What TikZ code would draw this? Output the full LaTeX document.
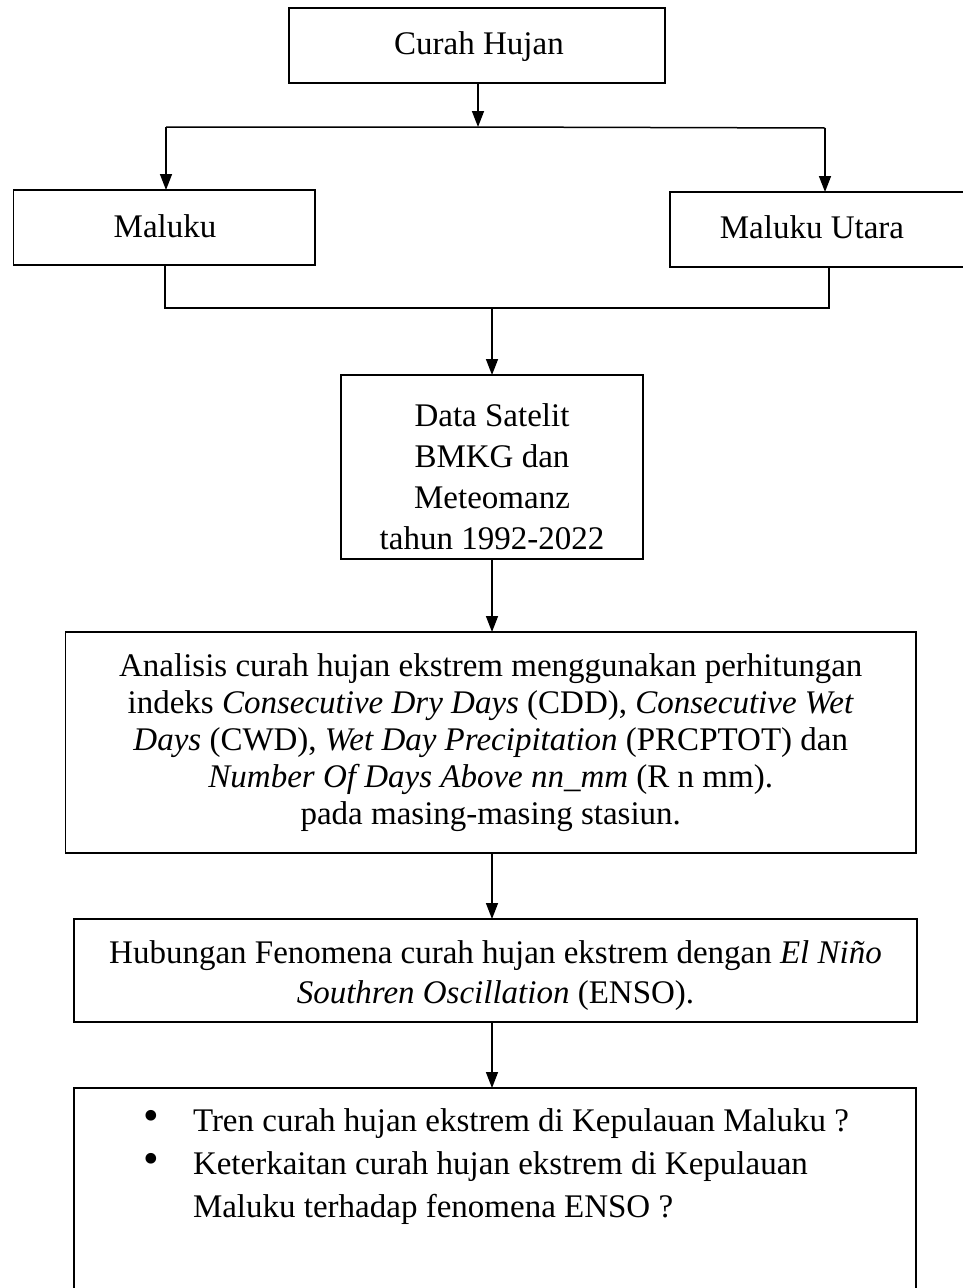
\documentclass[tikz,border=0pt]{standalone}
\usepackage{fontspec}
\setmainfont{Liberation Serif}
\usetikzlibrary{arrows.meta}
\newcommand{\bigbul}{\raisebox{1pt}{\scalebox{1.35}{\textbullet}}}
\begin{document}
\begin{tikzpicture}[x=1pt,y=-1pt,
  every node/.style={inner sep=0pt, outer sep=0pt},
  boxnode/.style={draw, line width=1.5pt, rectangle, align=center},
  plainbox/.style={rectangle},
  conn/.style={line width=1.5pt},
  arr/.style={line width=1.5pt, -{Triangle[length=16pt,width=12pt]}},
  txt/.style={font=\fontsize{33}{37}\selectfont}
]
\useasboundingbox (0,0) rectangle (963,1288);

% top box
\node[boxnode, txt, minimum width=376pt, minimum height=75pt] (curah) at (477,45.5) {};
\node[txt] (curahtext) at (479,47) {Curah Hujan};

% Maluku
\node[boxnode, txt, minimum width=301.5pt, minimum height=75pt] (maluku) at (164.25,227.5) {};
\node[txt] (malukutext) at (165,226) {Maluku};

% Maluku Utara (open on the right)
\node[plainbox, minimum width=300pt, minimum height=75pt] (utara) at (820,229.5) {};
\draw[conn] (utara.north east) -- (utara.north west) -- (utara.south west) -- (utara.south east);
\node[txt] (utaratext) at (812,227) {Maluku Utara};

% Data box
\node[boxnode, minimum width=302pt, minimum height=184pt] (data) at (492,467) {};
\node[align=center, font=\fontsize{33}{41}\selectfont] (datatext) at (492,477)
  {Data Satelit\\BMKG dan\\Meteomanz\\tahun 1992-2022};

% Analisis box
\node[boxnode, txt, minimum width=850.5pt, minimum height=221pt] (analisis) at (490.75,742.5)
  {Analisis curah hujan ekstrem menggunakan perhitungan\\
   indeks \textit{Consecutive Dry Days} (CDD), \textit{Consecutive Wet}\\
   \textit{Days} (CWD), \textit{Wet Day Precipitation} (PRCPTOT) dan\\
   \textit{Number Of Days Above nn\_mm} (R n mm).\\
   pada masing-masing stasiun.};

% Hubungan box
\node[boxnode, minimum width=843pt, minimum height=103pt] (hubungan) at (495.5,970.5) {};
\node[align=center, font=\fontsize{33}{40}\selectfont] (hubungantext) at (495.5,975.5)
  {Hubungan Fenomena curah hujan ekstrem dengan \textit{El Niño}\\
   \textit{Southren Oscillation} (ENSO).};

% Result box (open at bottom)
\node[plainbox, minimum width=842pt, minimum height=212pt] (result) at (495,1194) {};
\draw[conn] (result.south west) -- (result.north west) -- (result.north east) -- (result.south east);
\node[anchor=north west, font=\fontsize{33}{43}\selectfont] (list) at (143,1101)
  {\begin{tabular}{@{}p{50pt}@{}l@{}}
   \bigbul & Tren curah hujan ekstrem di Kepulauan Maluku ?\\
   \bigbul & Keterkaitan curah hujan ekstrem di Kepulauan\\
           & Maluku terhadap fenomena ENSO ?
   \end{tabular}};

% connectors
\coordinate (split) at (478,127);
\coordinate (lc) at (166,127);
\coordinate (rc) at (825,128);
\draw[arr] (curah.south -| split) -- (split);
\draw[conn] (lc) -- (split) -- (rc);
\draw[arr] (lc) -- (lc |- maluku.north);
\draw[arr] (rc) -- (rc |- utara.north);

\coordinate (ml) at (165,308);
\coordinate (mr) at (829,308);
\coordinate (merge) at (492,308);
\draw[conn] (ml |- maluku.south) -- (ml) -- (mr) -- (mr |- utara.south);
\draw[arr] (merge) -- (data.north);
\draw[arr] (data.south) -- (data.south |- analisis.north);
\draw[arr] (data.south |- analisis.south) -- (data.south |- hubungan.north);
\draw[arr] (data.south |- hubungan.south) -- (data.south |- result.north);
\end{tikzpicture}
\end{document}
